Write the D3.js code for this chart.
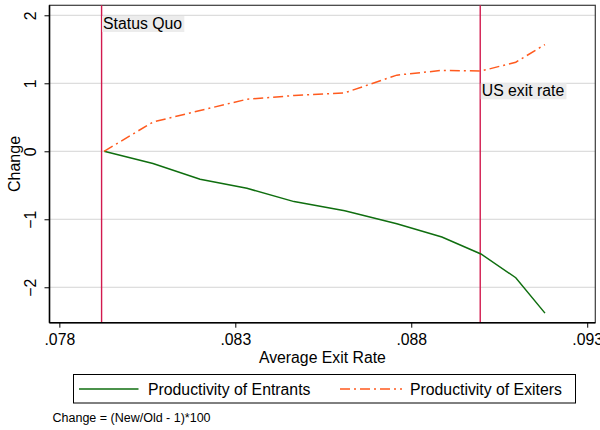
<!DOCTYPE html>
<html><head><meta charset="utf-8">
<script src="https://cdn.jsdelivr.net/npm/d3@7"></script>
<style>body{margin:0;background:#fff}svg{display:block}text{font-family:"Liberation Sans",Arial,Helvetica,sans-serif;fill:#000}</style>
</head><body><svg id="c" width="600" height="430"></svg>
<script>
const exitRate = [0.07927, 0.08066, 0.08200, 0.08333, 0.08467, 0.08611, 0.08759, 0.08887, 0.08998, 0.09097, 0.09180];
const entrants = [0, -0.18, -0.41, -0.545, -0.74, -0.875, -1.065, -1.26, -1.51, -1.86, -2.38];
const exiters  = [0, 0.43, 0.60, 0.765, 0.82, 0.86, 1.12, 1.19, 1.18, 1.31, 1.57];
const xTicks = [0.078, 0.083, 0.088, 0.093];
const xTickLabels = [".078", ".083", ".088", ".093"];
const yTicks = [-2, -1, 0, 1, 2];
const refLines = [0.0792, 0.08996];
const refLabels = ["Status Quo", "US exit rate"];
const seriesNames = ["Productivity of Entrants", "Productivity of Exiters"];

const FS = 15.8;
const svg = d3.select("#c");
const L = 49.5, R = 595.3, T = 5.3, B = 322.7;
const x = d3.scaleLinear().domain([0.07772, 0.09323]).range([L, R]);
const y = d3.scaleLinear().domain([-2.521, 2.147]).range([B, T]);

// grid
svg.append("g").selectAll("line").data(yTicks).join("line")
  .attr("x1", L).attr("x2", R).attr("y1", d => y(d)).attr("y2", d => y(d))
  .attr("stroke", "#d4d4d4").attr("stroke-width", 1);

// plot border
svg.append("rect").attr("x", L).attr("y", T).attr("width", R - L).attr("height", B - T)
  .attr("fill", "none").attr("stroke", "#3a3a3a").attr("stroke-width", 1.2);

// reference lines
svg.append("g").selectAll("line").data(refLines).join("line")
  .attr("x1", d => x(d)).attr("x2", d => x(d)).attr("y1", T).attr("y2", B)
  .attr("stroke", "#d21a4e").attr("stroke-width", 1.4);

// labels with boxes
const lblTop = [16, 83.3];
refLabels.forEach((t, i) => {
  const g = svg.append("g");
  const tx = g.append("text").attr("x", x(refLines[i]) + 1.5).attr("y", lblTop[i] + 13)
    .attr("font-size", FS).text(t);
  const bb = tx.node().getBBox();
  g.insert("rect", "text").attr("x", x(refLines[i]) + 0.5).attr("y", lblTop[i])
    .attr("width", bb.width + 3).attr("height", 16).attr("fill", "#ececec");
});

// lines
const pts1 = exitRate.map((d, i) => [d, entrants[i]]);
const pts2 = exitRate.map((d, i) => [d, exiters[i]]);
const line = d3.line().x(d => x(d[0])).y(d => y(d[1]));
svg.append("path").attr("d", line(pts1)).attr("fill", "none")
  .attr("stroke", "#0f6e0f").attr("stroke-width", 1.5);
svg.append("path").attr("d", line(pts2)).attr("fill", "none")
  .attr("stroke", "#ff5a1e").attr("stroke-width", 1.5).attr("stroke-dasharray", "10,4,2,4");

// axes
const xAxis = d3.axisBottom(x).tickValues(xTicks).tickFormat((d, i) => xTickLabels[i]).tickSize(5).tickPadding(6);
const gx = svg.append("g").attr("transform", `translate(0,${B})`).call(xAxis);
gx.select(".domain").attr("stroke", "#000").attr("stroke-width", 1.5).attr("d", `M${L},0H${R}`);
gx.selectAll(".tick line").attr("stroke", "#000").attr("stroke-width", 1);
gx.selectAll(".tick text").attr("font-size", FS).attr("font-family", "Liberation Sans, Arial").attr("fill", "#000");

const yAxis = d3.axisLeft(y).tickValues(yTicks).tickFormat(d3.format("d")).tickSize(5).tickPadding(0);
const gy = svg.append("g").attr("transform", `translate(${L},0)`).call(yAxis);
gy.select(".domain").attr("stroke", "#000").attr("stroke-width", 1.5).attr("d", `M0,${T}V${B}`);
gy.selectAll(".tick line").attr("stroke", "#000").attr("stroke-width", 1);
gy.selectAll(".tick text").attr("font-size", FS).attr("font-family", "Liberation Sans, Arial").attr("fill", "#000")
  .attr("transform", "rotate(-90)").attr("x", 0).attr("y", -13.5).attr("dy", 0).attr("text-anchor", "middle");

// axis titles
svg.append("text").attr("x", (L + R) / 2).attr("y", 362.5).attr("text-anchor", "middle").attr("font-size", FS).text("Average Exit Rate");
svg.append("text").attr("transform", `translate(20,${(T + B) / 2}) rotate(-90)`).attr("text-anchor", "middle").attr("font-size", 16).text("Change");

// legend
svg.append("rect").attr("x", 73.5).attr("y", 374.5).attr("width", 502).attr("height", 28.5)
  .attr("fill", "#fff").attr("stroke", "#000").attr("stroke-width", 1);
const lg = [{x1: 79, x2: 138.5, tx: 148}, {x1: 340, x2: 402, tx: 410}];
seriesNames.forEach((n, i) => {
  svg.append("line").attr("x1", lg[i].x1).attr("x2", lg[i].x2).attr("y1", 389).attr("y2", 389)
    .attr("stroke", i === 0 ? "#0f6e0f" : "#ff5a1e").attr("stroke-width", 1.5)
    .attr("stroke-dasharray", i === 0 ? null : "10,4,2,4");
  svg.append("text").attr("x", lg[i].tx).attr("y", 394.5).attr("font-size", FS).text(n);
});

svg.append("text").attr("x", 52.5).attr("y", 421.5).attr("font-size", 12.5).text("Change = (New/Old - 1)*100");
</script></body></html>
